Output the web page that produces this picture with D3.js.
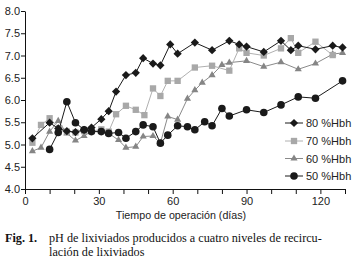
<!DOCTYPE html>
<html>
<head>
<meta charset="utf-8">
<script src="https://d3js.org/d3.v7.min.js"></script>
<style>
  body { margin: 0; background: #fff; }
  svg text { font-family: "Liberation Sans", Arial, sans-serif; }
</style>
</head>
<body>
<div id="chart"></div>
<script>
// days and pH readings per recirculation level
const days80 = [3,10,13.5,17,20.5,24,27,31,34,37,41,45,48,52,55,59,62,69,76,83,87,90,97,104,108,111,118,125,129];
const ph80   = [5.14,5.49,5.36,5.3,5.28,5.33,5.38,5.57,5.75,6.19,6.56,6.61,6.94,6.82,6.78,7.25,7.04,7.29,7.12,7.33,7.25,7.2,7.08,7.33,7.12,7.22,7.14,7.22,7.18];

const days70 = [3,6.5,10,14,17,20.5,24,27,31,34,37,41,45,48.5,52,55,58,62,69,76,83,87,90,97,104,108,111,118,125];
const ph70   = [5.04,5.44,5.59,5.36,5.29,5.27,5.3,5.3,5.34,5.29,5.68,5.87,5.78,5.66,6.26,6.09,6.43,6.43,6.73,6.77,6.66,7.16,7.06,7.0,7.16,7.39,7.06,7.31,7.01];

const days60 = [3,6.5,10,13.5,17,20.5,24,27,31,34,38,41,45,48,52,55,58,62,66,69,72,76,80,83,90,97,104,111,118,125,129];
const ph60   = [4.85,4.93,5.29,5.53,5.25,5.09,5.19,5.3,5.28,5.25,5.1,4.93,4.95,5.18,5.19,5.03,5.63,5.56,6.03,6.22,6.39,6.56,6.79,6.84,6.88,6.75,6.85,6.69,6.82,7.03,7.06];

const days50 = [10,13.5,17,20.5,24,27,31,34,38,41,45,48,52,55,58,62,66,69,73,76,80,83,90,97,104,111,118,129];
const ph50   = [4.89,5.27,5.96,5.49,5.33,5.29,5.29,5.25,5.27,5.14,5.29,5.44,5.4,5.03,5.21,5.42,5.4,5.33,5.51,5.42,5.81,5.64,5.78,5.72,5.89,6.07,6.04,6.43];

const seriesNames = ["80 %Hbh", "70 %Hbh", "60 %Hbh", "50 %Hbh"];
const xTicks = [0,10,20,30,40,50,60,70,80,90,100,110,120,130];
const yTicks = [4.0,4.5,5.0,5.5,6.0,6.5,7.0,7.5,8.0];

const width = 354, height = 263;

const svg = d3.select("#chart").append("svg")
    .attr("width", width)
    .attr("height", height);

const x = d3.scaleLinear().domain([0, 130]).range([25, 345]);
const y = d3.scaleLinear().domain([4, 8]).range([189, 11]);

// axes
const xAxis = svg.append("g")
    .attr("transform", `translate(0,${y(4)})`)
    .call(d3.axisBottom(x).tickValues(xTicks).tickSize(5).tickSizeOuter(0)
      .tickFormat(d => d % 30 === 0 ? d : ""));
const yAxis = svg.append("g")
    .attr("transform", `translate(${x(0)},0)`)
    .call(d3.axisLeft(y).tickValues(yTicks).tickSize(4).tickSizeOuter(0)
      .tickFormat(d3.format(".1f")));

[xAxis, yAxis].forEach(g => {
  g.select(".domain").attr("stroke", "#111");
  g.selectAll(".tick line").attr("stroke", "#111");
  g.selectAll(".tick text").attr("font-size", 11).attr("fill", "#222")
    .attr("font-family", "Liberation Sans, Arial, sans-serif");
});
yAxis.selectAll(".tick text").attr("x", -5);
xAxis.selectAll(".tick text").attr("y", 8);

svg.append("text")
    .attr("x", 181).attr("y", 219)
    .attr("text-anchor", "middle")
    .attr("font-size", 10.7).attr("fill", "#222")
    .text("Tiempo de operación (días)");

// series styles
const styles = [
  {days: days80, vals: ph80, line: "#1a1a1a", fill: "#1a1a1a", sym: "diamond"},
  {days: days70, vals: ph70, line: "#b0b0b0", fill: "#a8a8a8", sym: "square"},
  {days: days60, vals: ph60, line: "#8a8a8a", fill: "#858585", sym: "triangle"},
  {days: days50, vals: ph50, line: "#1a1a1a", fill: "#1a1a1a", sym: "circle"}
];

function drawMarker(g, sym, fill, cx, cy) {
  if (sym === "diamond") {
    g.append("path").attr("d", d3.symbol(d3.symbolSquare, 34)())
      .attr("transform", `translate(${cx},${cy}) rotate(45)`).attr("fill", fill);
  } else if (sym === "square") {
    g.append("path").attr("d", d3.symbol(d3.symbolSquare, 40)())
      .attr("transform", `translate(${cx},${cy})`).attr("fill", fill);
  } else if (sym === "triangle") {
    g.append("path").attr("d", d3.symbol(d3.symbolTriangle, 22)())
      .attr("transform", `translate(${cx},${cy})`).attr("fill", fill);
  } else {
    g.append("circle").attr("cx", cx).attr("cy", cy).attr("r", 3.8).attr("fill", fill);
  }
}

const drawOrder = [2, 1, 0, 3];
const line = d3.line().x(d => x(d[0])).y(d => y(d[1]));

drawOrder.forEach(i => {
  const s = styles[i];
  const pts = s.days.map((d, j) => [d, s.vals[j]]);
  const g = svg.append("g");
  g.append("path").datum(pts)
    .attr("fill", "none").attr("stroke", s.line).attr("stroke-width", 1)
    .attr("d", line);
  pts.forEach(p => drawMarker(g, s.sym, s.fill, x(p[0]), y(p[1])));
});

// legend
const legendY = [123, 141, 158.5, 176];
seriesNames.forEach((name, i) => {
  const s = styles[i];
  const g = svg.append("g");
  g.append("line").attr("x1", 285).attr("x2", 303)
    .attr("y1", legendY[i]).attr("y2", legendY[i])
    .attr("stroke", s.line).attr("stroke-width", 1);
  drawMarker(g, s.sym, s.fill, 294, legendY[i]);
  g.append("text").attr("x", 306).attr("y", legendY[i] + 4)
    .attr("font-size", 11).attr("fill", "#222").text(name);
});

// caption
const capFont = "Liberation Serif, Times New Roman, serif";
const cap = svg.append("g").attr("fill", "#111");
cap.append("text").attr("x", 5).attr("y", 242)
    .attr("font-size", 12.2).attr("font-weight", "bold")
    .style("font-family", capFont)
    .text("Fig. 1.");
cap.append("text").attr("x", 49).attr("y", 242)
    .attr("font-size", 12.2)
    .style("font-family", capFont)
    .text("pH de lixiviados producidos a cuatro niveles de recircu-");
cap.append("text").attr("x", 49).attr("y", 256)
    .attr("font-size", 12.2)
    .style("font-family", capFont)
    .text("lación de lixiviados");
</script>
</body>
</html>
